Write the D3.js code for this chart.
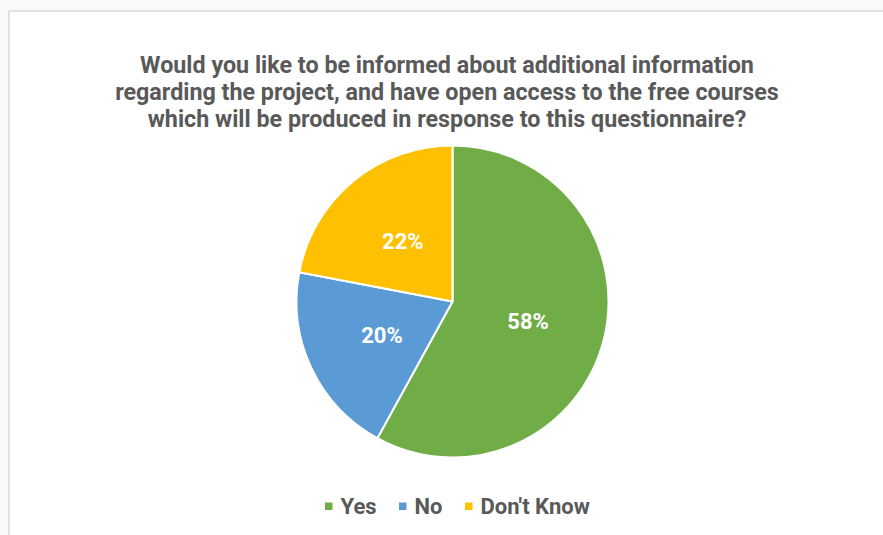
<!DOCTYPE html>
<html><head><meta charset="utf-8">
<script src="https://cdn.jsdelivr.net/npm/d3@7"></script>
<style>html,body{margin:0;padding:0;background:#f8f9fa;}svg{display:block;}</style>
</head><body>
<svg id="c" width="883" height="535"></svg>
<script>
const categories = ["Yes", "No", "Don't Know"];
const values = [58, 20, 22];
const colors = ["#70AD47", "#5B9BD5", "#FFC000"];
const titleLines = [
  "Would you like to be informed about additional information",
  "regarding the project, and have open access to the free courses",
  "which will be produced in response to this questionnaire?"
];

const svg = d3.select("#c");
const font = "Roboto, 'Liberation Sans', Arial, sans-serif";
svg.append("rect").attr("x", 9).attr("y", 11).attr("width", 900).attr("height", 600)
  .attr("fill", "#fff").attr("stroke", "#d9d9d9").attr("stroke-width", 1.5);

svg.append("text").attr("text-anchor", "middle").attr("font-family", font)
  .attr("font-weight", "bold").attr("font-size", 23.3).attr("fill", "#595959")
  .selectAll("tspan").data(titleLines).join("tspan")
  .attr("x", 447).attr("y", (d, i) => 72.5 + i * 27.3).text(d => d);

const cx = 452.5, cy = 301.5, r = 156;
const pie = d3.pie().sort(null).value(d => d)(values);
const arc = d3.arc().innerRadius(0).outerRadius(r);
const labelArc = d3.arc().innerRadius(r * 0.5).outerRadius(r * 0.5);
const g = svg.append("g").attr("transform", `translate(${cx},${cy})`);
g.selectAll("path").data(pie).join("path")
  .attr("d", arc).attr("fill", (d, i) => colors[i])
  .attr("stroke", "#fff").attr("stroke-width", 2).attr("stroke-linejoin", "round");
g.selectAll("text").data(pie).join("text")
  .attr("transform", d => { const c = labelArc.centroid(d); return `translate(${c[0]},${c[1]})`; })
  .attr("text-anchor", "middle").attr("dy", "0.36em")
  .attr("font-family", font).attr("font-weight", "bold").attr("font-size", 22)
  .attr("fill", "#fff").text(d => d.data + "%");

// legend
const legendX = [325, 399, 465];
const lg = svg.append("g");
categories.forEach((c, i) => {
  lg.append("rect").attr("x", legendX[i]).attr("y", 502.5).attr("width", 7.5).attr("height", 7.5).attr("fill", colors[i]);
  lg.append("text").attr("x", legendX[i] + 15.5).attr("y", 514)
    .attr("font-family", font).attr("font-weight", "bold").attr("font-size", 22)
    .attr("fill", "#595959").text(c);
});
</script>
</body></html>
